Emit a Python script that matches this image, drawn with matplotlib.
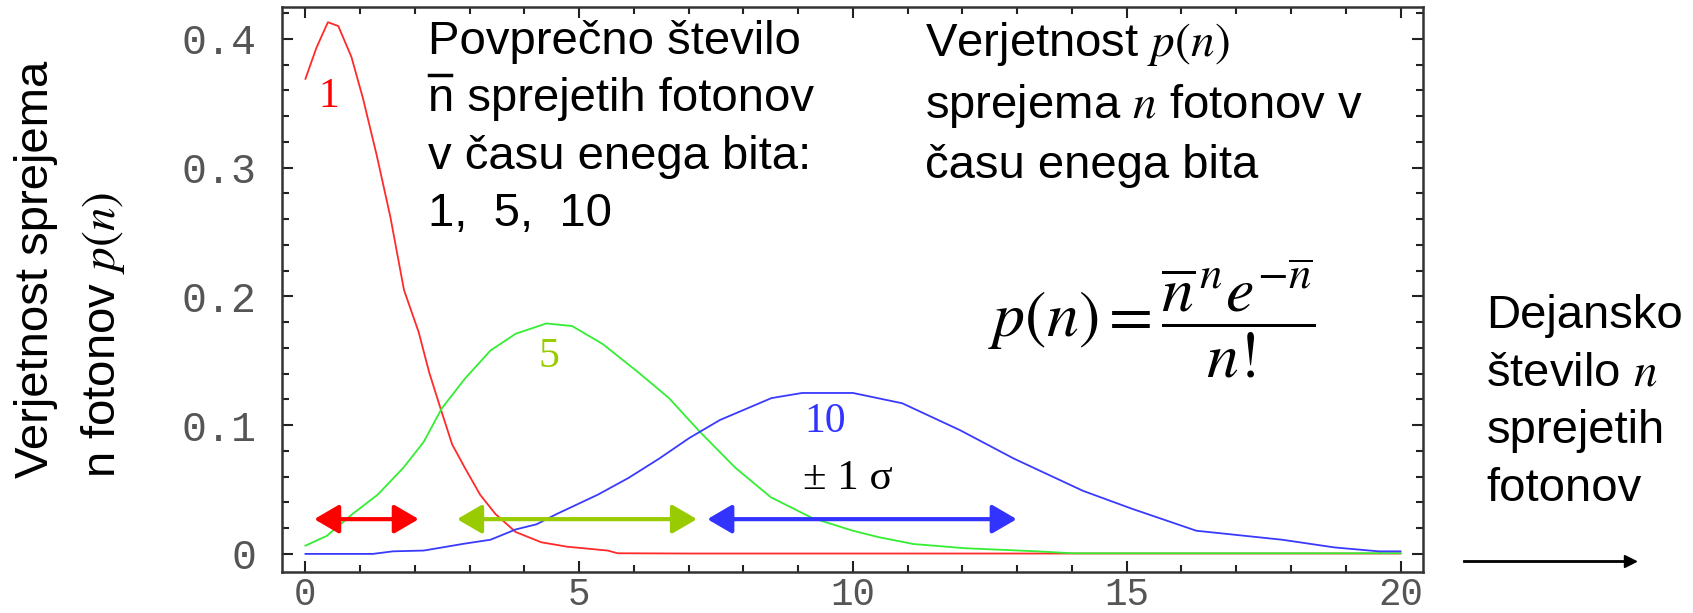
import matplotlib
matplotlib.use('Agg')
import matplotlib.pyplot as plt
from matplotlib.lines import Line2D
from matplotlib.ticker import MultipleLocator

plt.rcParams['font.family'] = ['Liberation Sans', 'DejaVu Sans']
plt.rcParams['mathtext.fontset'] = 'stix'

# curves (mean photon number 1, 5, 10)
n1 = [0, 0.2, 0.41, 0.6, 0.84, 1.05, 1.3, 1.55, 1.8, 2.07, 2.26, 2.46, 2.68, 2.91,
      3.19, 3.47, 3.84, 4.31, 4.78, 5.52, 5.7, 7, 10, 13.3, 20]
p1 = [0.369, 0.393, 0.413, 0.410, 0.386, 0.354, 0.31, 0.262, 0.205, 0.172, 0.141,
      0.114, 0.085, 0.067, 0.046, 0.031, 0.017, 0.009, 0.0056, 0.0026, 0.0005,
      0.0003, 0.0003, 0.0003, 0.0003]

n5 = [0, 0.39, 0.86, 1.32, 1.79, 2.16, 2.49, 2.91, 3.38, 3.84, 4.4, 4.87, 5.43, 6.08,
      6.64, 7.2, 7.85, 8.5, 9.25, 10, 10.47, 11.1, 12.05, 13.36, 14, 20]
p5 = [0.0064, 0.014, 0.031, 0.046, 0.067, 0.087, 0.113, 0.136, 0.158, 0.171, 0.179,
      0.177, 0.163, 0.141, 0.121, 0.095, 0.067, 0.044, 0.028, 0.018, 0.013, 0.0077,
      0.0044, 0.002, 0.0005, 0.0005]

n10 = [0, 1.23, 1.6, 2.16, 2.91, 3.38, 3.84, 4.22, 4.59, 5.34, 5.9, 6.46, 7.01, 7.57,
       8.51, 9.07, 10, 10.9, 11.96, 12.94, 14.2, 15.1, 16.27, 17.84, 18.8, 19.6, 20]
p10 = [0, 0, 0.002, 0.0026, 0.008, 0.011, 0.019, 0.023, 0.031, 0.046, 0.059, 0.074,
       0.09, 0.104, 0.121, 0.125, 0.125, 0.117, 0.096, 0.074, 0.049, 0.035, 0.018,
       0.011, 0.005, 0.002, 0.002]

# +-1 sigma ranges
sigma_lo = [0.16, 2.77, 7.34]
sigma_hi = [2.07, 7.15, 12.99]
sigma_y = 0.027

line_cols = ['#ff2a2a', '#33ee33', '#3a3aff']
arrow_cols = ['#ff0000', '#99cc00', '#3333ff']

fig = plt.figure(figsize=(16.93, 6.13), dpi=100)
ax = fig.add_axes([0.1665, 0.067, 0.674, 0.922])

ax.plot(n1, p1, color=line_cols[0], lw=1.3)
ax.plot(n5, p5, color=line_cols[1], lw=1.3)
ax.plot(n10, p10, color=line_cols[2], lw=1.3)

for lo, hi, c in zip(sigma_lo, sigma_hi, arrow_cols):
    ax.annotate('', xy=(hi, sigma_y), xytext=(lo, sigma_y),
                arrowprops=dict(arrowstyle='<|-|>,head_length=0.6,head_width=0.35',
                                color=c, lw=3, mutation_scale=25,
                                shrinkA=0, shrinkB=0))

serif = ['Liberation Serif', 'DejaVu Serif']
ax.text(0.43, 0.355, '1', color='#ff0000', fontsize=30, family=serif, ha='center', va='center')
ax.text(4.44, 0.153, '5', color='#99cc00', fontsize=30, family=serif, ha='center', va='center')
ax.text(9.5, 0.103, '10', color='#3333ff', fontsize=30, family=serif, ha='center', va='center')
ax.text(9.9, 0.058, '± 1 σ', color='black', fontsize=31, family=serif, ha='center', va='center')

ax.set_xlim(-0.43, 20.41)
ax.set_ylim(-0.014, 0.425)
ax.set_xticks([0, 5, 10, 15, 20])
ax.set_yticks([0, 0.1, 0.2, 0.3, 0.4])
ax.set_yticklabels(['0', '0.1', '0.2', '0.3', '0.4'])
ax.xaxis.set_minor_locator(MultipleLocator(1))
ax.yaxis.set_minor_locator(MultipleLocator(0.02))
ax.tick_params(which='both', direction='in', top=True, right=True,
               width=1.5, color='#222222')
ax.tick_params(which='major', length=8)
ax.tick_params(which='minor', length=5)
ax.tick_params(axis='y', which='major', pad=18)
ax.tick_params(axis='x', which='major', pad=4)
for lab in ax.get_yticklabels():
    lab.set_family(['Liberation Mono', 'DejaVu Sans Mono'])
    lab.set_fontsize(30)
    lab.set_color('#555555')
for lab in ax.get_xticklabels():
    lab.set_family(['Liberation Mono', 'DejaVu Sans Mono'])
    lab.set_fontsize(27)
    lab.set_color('#555555')
for sp in ax.spines.values():
    sp.set_linewidth(1.8)
    sp.set_color('#333333')

# texts
fig.text(0.253, 0.968, 'Povprečno število\nn sprejetih fotonov\nv času enega bita:\n1,  5,  10',
         fontsize=34, ha='left', va='top', linespacing=1.4)
fig.add_artist(Line2D([0.2532, 0.2666], [0.877, 0.877], transform=fig.transFigure,
                      color='black', lw=2.5))
fig.text(0.5466, 0.968, 'Verjetnost $p(n)$\nsprejema $n$ fotonov v\nčasu enega bita',
         fontsize=34, ha='left', va='top', linespacing=1.4)
fig.text(0.68, 0.48, r'$p\left(n\right)=\dfrac{\overline{n}^{\,n}e^{-\overline{n}}}{n!}$',
         fontsize=46, ha='center', va='center')
fig.text(0.878, 0.52, 'Dejansko\nštevilo $n$\nsprejetih\nfotonov',
         fontsize=34, ha='left', va='top', linespacing=1.4)
fig.text(0.008, 0.22, 'Verjetnost sprejema\nn fotonov $p(n)$', rotation=90,
         fontsize=34, ha='left', va='bottom', multialignment='left', linespacing=1.6)
fig.add_artist(Line2D([0.865, 0.963], [0.0845, 0.0845], transform=fig.transFigure,
                      color='black', lw=2, marker='>', markevery=[1], markersize=9))

fig.savefig('out.png', dpi=100)
